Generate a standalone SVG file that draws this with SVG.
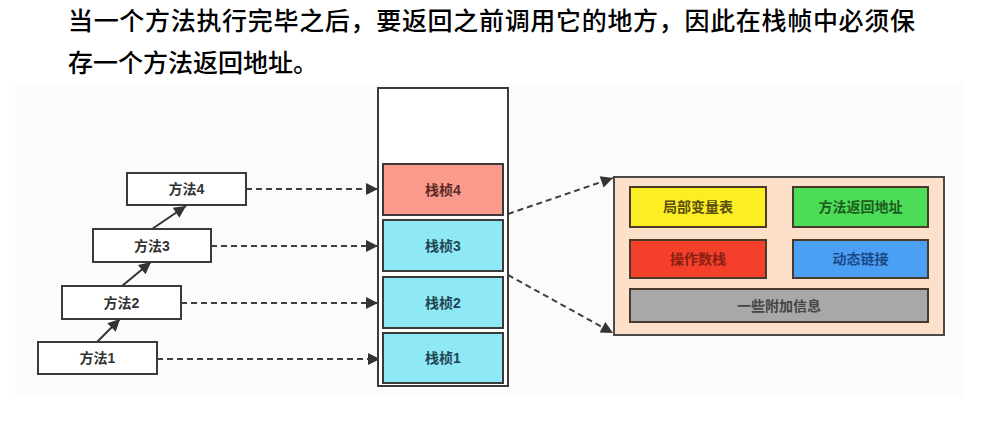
<svg xmlns="http://www.w3.org/2000/svg" width="1000" height="427" viewBox="0 0 1000 427">
<defs>
<style>
.head{font-family:"Liberation Sans","Noto Sans CJK SC",sans-serif;font-size:25px;font-weight:500;fill:#000;}
.lbl{font-family:"Liberation Sans","Noto Sans CJK SC",sans-serif;font-size:14px;font-weight:bold;text-anchor:middle;dominant-baseline:central;}
.mbox{fill:#ffffff;stroke:#3a3a3a;stroke-width:2;}
.frame{stroke:#3a3a3a;stroke-width:2;}
.inner{stroke:#4a3a2a;stroke-width:2;}
.dash{fill:none;stroke:#3f3f3f;stroke-width:2;stroke-dasharray:6 4;}
.solid{fill:none;stroke:#333;stroke-width:2;}
</style>
<marker id="ah" viewBox="0 0 10 10" refX="10" refY="5" markerWidth="7" markerHeight="6" orient="auto" markerUnits="strokeWidth">
<path d="M0,0 L10,5 L0,10 z" fill="#333"/>
</marker>
</defs>
<rect width="1000" height="427" fill="#ffffff"/>
<g id="heading">
<text class="head" x="68" y="30" textLength="847" lengthAdjust="spacing">当一个方法执行完毕之后，要返回之前调用它的地方，因此在栈帧中必须保</text>
<text class="head" x="68" y="72">存一个方法返回地址。</text>
</g>
<rect id="panel" x="15" y="84" width="948" height="312" fill="#fbfbf9"/>
<g id="connectors">
<path class="solid" d="M97,342 L120,319" marker-end="url(#ah)"/>
<path class="solid" d="M122,286 L151,262" marker-end="url(#ah)"/>
<path class="solid" d="M152,229 L186,206" marker-end="url(#ah)"/>
<path class="dash" d="M246,189 L378,189" marker-end="url(#ah)"/>
<path class="dash" d="M211,246 L378,246" marker-end="url(#ah)"/>
<path class="dash" d="M181,303 L378,303" marker-end="url(#ah)"/>
<path class="dash" d="M157,359 L380,359" marker-end="url(#ah)"/>
<path class="dash" d="M508,214 L613,178" marker-end="url(#ah)"/>
<path class="dash" d="M508,275 L613,333" marker-end="url(#ah)"/>
</g>
<g id="method4"><rect class="mbox" x="127" y="173" width="119" height="32"/><text class="lbl" x="186.5" y="189" fill="#333">方法4</text></g>
<g id="method3"><rect class="mbox" x="93" y="229" width="118" height="33"/><text class="lbl" x="152" y="246" fill="#333">方法3</text></g>
<g id="method2"><rect class="mbox" x="62" y="286" width="119" height="33"/><text class="lbl" x="121.5" y="303" fill="#333">方法2</text></g>
<g id="method1"><rect class="mbox" x="38" y="342" width="119" height="32"/><text class="lbl" x="97.5" y="358" fill="#333">方法1</text></g>
<g id="stack"><rect x="378" y="88" width="130" height="298" fill="#ffffff" stroke="#3a3a3a" stroke-width="2"/></g>
<g id="frame4"><rect class="frame" x="383" y="164" width="120" height="51" fill="#f99a8c"/><text class="lbl" x="443" y="189.5" fill="#5a2a26">栈桢4</text></g>
<g id="frame3"><rect class="frame" x="383" y="220" width="120" height="51" fill="#8ee8f6"/><text class="lbl" x="443" y="245.5" fill="#1f4650">栈桢3</text></g>
<g id="frame2"><rect class="frame" x="383" y="277" width="120" height="51" fill="#8ee8f6"/><text class="lbl" x="443" y="302.5" fill="#1f4650">栈桢2</text></g>
<g id="frame1"><rect class="frame" x="383" y="333" width="120" height="50" fill="#8ee8f6"/><text class="lbl" x="443" y="358" fill="#1f4650">栈桢1</text></g>
<g id="frame-detail"><rect x="614" y="177" width="330" height="158" fill="#fde0c9" stroke="#4a4a4a" stroke-width="2"/></g>
<g id="locals"><rect class="inner" x="630" y="187" width="136" height="40" fill="#fbee22"/><text class="lbl" x="698" y="207" fill="#5a4e10">局部变量表</text></g>
<g id="return-address"><rect class="inner" x="793" y="187" width="135" height="40" fill="#4cdc55"/><text class="lbl" x="860.5" y="207" fill="#1d5a22">方法返回地址</text></g>
<g id="operand-stack"><rect class="inner" x="630" y="240" width="136" height="38" fill="#f43f2a"/><text class="lbl" x="698" y="259" fill="#8a1f14">操作数栈</text></g>
<g id="dynamic-link"><rect class="inner" x="793" y="240" width="135" height="38" fill="#4b9ff5"/><text class="lbl" x="860.5" y="259" fill="#1c4a86">动态链接</text></g>
<g id="extra-info"><rect class="inner" x="630" y="289" width="298" height="33" fill="#a8a8a8"/><text class="lbl" x="779" y="305.5" fill="#454545">一些附加信息</text></g>
</svg>
